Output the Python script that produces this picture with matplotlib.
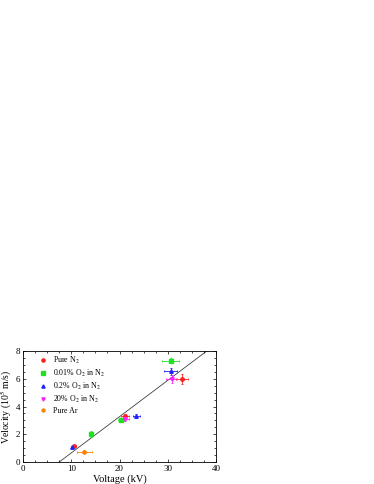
import matplotlib
matplotlib.use("Agg")
import matplotlib.pyplot as plt
from matplotlib.ticker import MultipleLocator
from matplotlib.lines import Line2D

plt.rcParams['font.family'] = ['Liberation Serif', 'DejaVu Serif']
plt.rcParams['mathtext.fontset'] = 'stix'

labels = ["Pure N$_2$", "0.01% O$_2$ in N$_2$", "0.2% O$_2$ in N$_2$", "20% O$_2$ in N$_2$", "Pure Ar"]
colors = ["#ff2020", "#20e020", "#2020ff", "#ff20ff", "#ff8000"]
markers = ["o", "s", "^", "v", "h"]

n2_x = [10.6, 21.2, 33.0]
n2_y = [1.12, 3.3, 6.0]
n2_xerr = [0.3, 0.8, 1.3]
n2_yerr = [0.05, 0.15, 0.35]

o001_x = [14.0, 20.3, 30.6]
o001_y = [2.0, 3.05, 7.3]
o001_xerr = [0.2, 0.7, 1.8]
o001_yerr = [0.2, 0.15, 0.2]

o02_x = [10.2, 23.5, 30.6]
o02_y = [1.08, 3.3, 6.55]
o02_xerr = [0.3, 0.8, 1.3]
o02_yerr = [0.05, 0.15, 0.25]

o20_x = [21.2, 30.8]
o20_y = [3.1, 6.0]
o20_xerr = [0.8, 1.2]
o20_yerr = [0.15, 0.3]

ar_x = [12.7]
ar_y = [0.75]
ar_xerr = [1.5]
ar_yerr = [0.1]

fit_x = [7.5, 38.1]
fit_y = [0.0, 8.0]

series = [
    (n2_x, n2_y, n2_xerr, n2_yerr),
    (o001_x, o001_y, o001_xerr, o001_yerr),
    (o02_x, o02_y, o02_xerr, o02_yerr),
    (o20_x, o20_y, o20_xerr, o20_yerr),
    (ar_x, ar_y, ar_xerr, ar_yerr),
]

fig = plt.figure(figsize=(3.74, 4.84), dpi=100)
ax = fig.add_axes([23/374, 1 - 462/484, (216-23)/374, (462-351)/484])

ax.plot(fit_x, fit_y, color="#404040", lw=0.6, zorder=1)
handles = []
for (x, y, xe, ye), lab, c, m in zip(series, labels, colors, markers):
    ax.errorbar(x, y, xerr=xe, yerr=ye, fmt=m, color=c, ms=2.5, elinewidth=0.6,
                capsize=1, capthick=0.6, zorder=3)
    handles.append(Line2D([], [], linestyle='none', marker=m, color=c, ms=2.3, label=lab))

ax.set_xlim(0, 40)
ax.set_ylim(0, 8)
ax.xaxis.set_major_locator(MultipleLocator(10))
ax.xaxis.set_minor_locator(MultipleLocator(2.5))
ax.yaxis.set_major_locator(MultipleLocator(2))
ax.yaxis.set_minor_locator(MultipleLocator(0.5))
ax.tick_params(which='both', direction='in', top=True, right=True, labelsize=6.5, width=0.5, pad=2)
ax.tick_params(which='major', length=2.5)
ax.tick_params(which='minor', length=1.5)
for s in ax.spines.values():
    s.set_linewidth(0.6)

ax.set_xlabel("Voltage (kV)", fontsize=7.5, labelpad=1)
ax.set_ylabel("Velocity (10$^5$ m/s)", fontsize=7, labelpad=1)

ax.legend(handles=handles, loc='upper left', bbox_to_anchor=(0.084, 0.965), fontsize=5.7,
          frameon=False, handlelength=1.0, handletextpad=0.8, labelspacing=0.22,
          borderaxespad=0, borderpad=0)

fig.savefig("out.png", dpi=100)
